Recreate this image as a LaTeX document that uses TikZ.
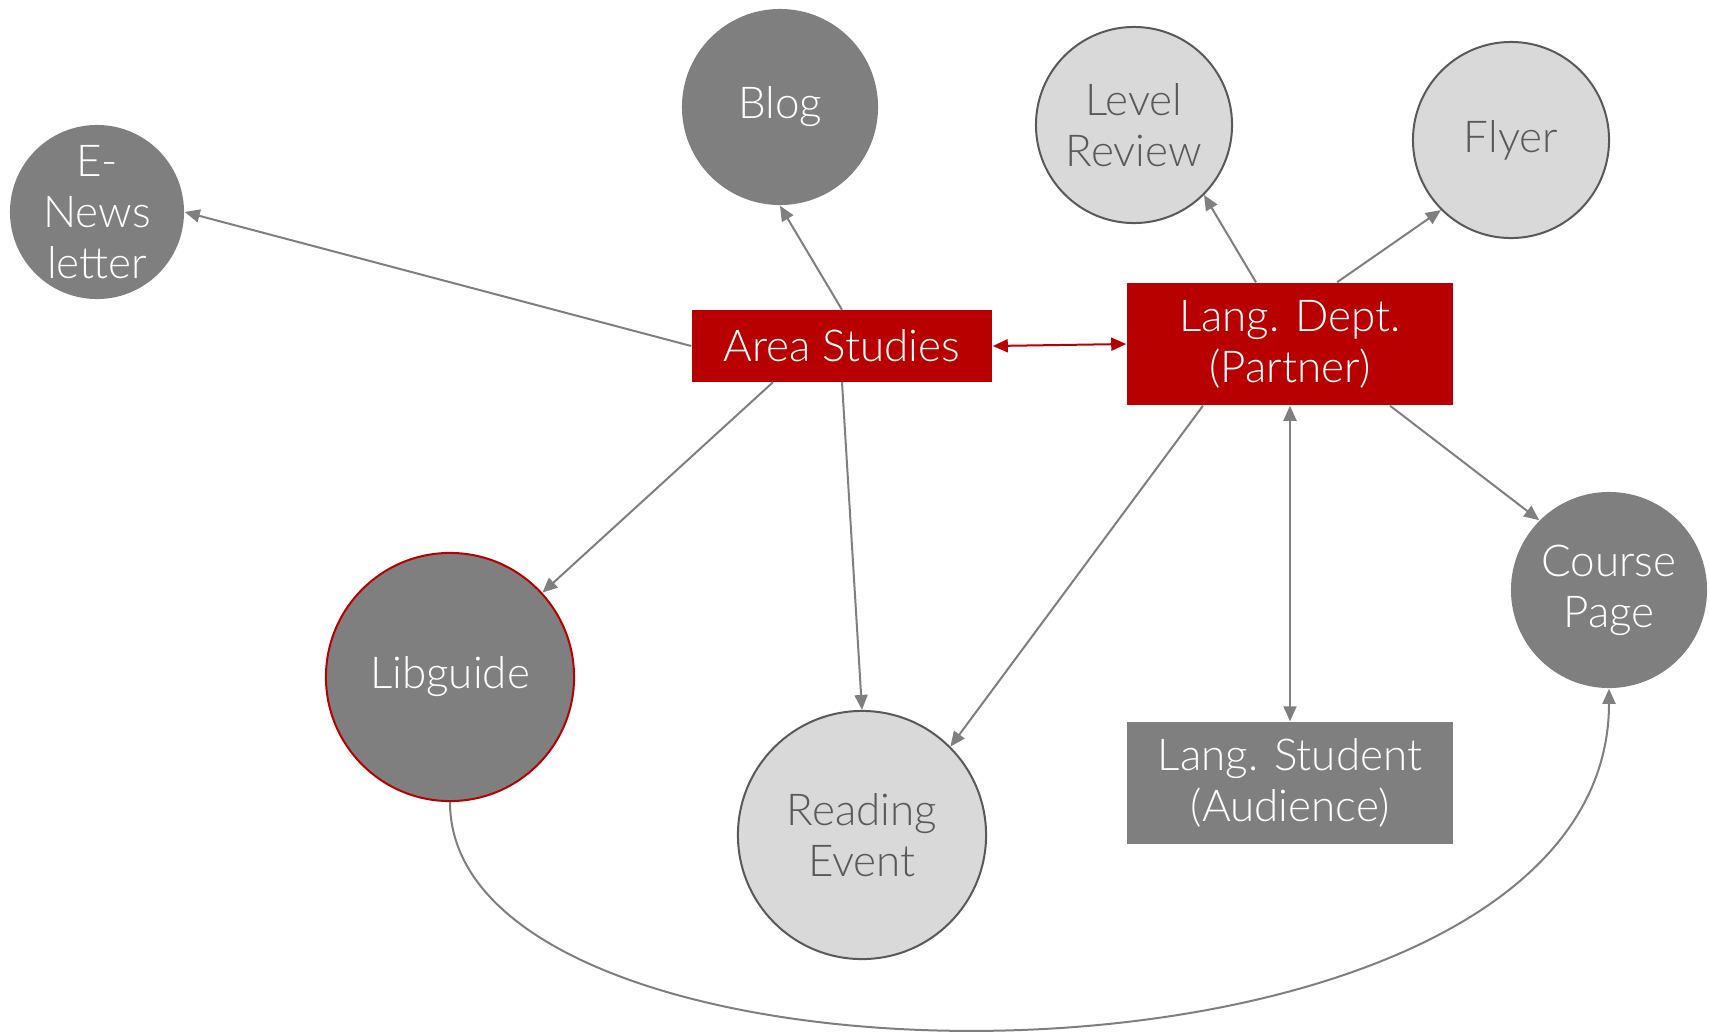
\documentclass[tikz,border=0pt]{standalone}
\usepackage{fontspec}
\setmainfont{Lato Light}
\usetikzlibrary{arrows.meta}
\definecolor{deptred}{RGB}{184,0,0}
\definecolor{darkfill}{RGB}{127,127,127}
\definecolor{lightfill}{RGB}{217,217,217}
\definecolor{inkgray}{RGB}{89,89,89}
\begin{document}
\begin{tikzpicture}[x=0.01cm,y=-0.01cm,
    >={Triangle[length=0.15cm,width=0.13cm]},
    every node/.style={font=\fontsize{12.5pt}{14.5pt}\selectfont,align=center,inner sep=0pt},
    dark/.style={circle,fill=darkfill,text=white,minimum size=1.96cm},
    light/.style={circle,fill=lightfill,draw=inkgray,line width=0.02cm,text=inkgray,minimum size=1.96cm},
    big/.style={minimum size=2.48cm},
    redbox/.style={rectangle,fill=deptred,text=white},
    graybox/.style={rectangle,fill=darkfill,text=white},
    link/.style={draw=darkfill,line width=0.02cm,->}]
    \useasboundingbox (0,0) rectangle (1709,1033);
    % outputs
    \node[dark] (blog) at (780,107) {Blog};
    \node[dark,minimum size=1.74cm] (enews) at (97,212) {E-\\News\\letter};
    \node[light] (review) at (1134,125) {Level\\Review};
    \node[light] (flyer) at (1511,140) {Flyer};
    \node[dark,big,draw=deptred,line width=0.02cm] (lib) at (450,677) {Libguide};
    \node[light,big] (reading) at (862,835) {Reading\\Event};
    \node[dark] (course) at (1609,590) {Course\\Page};
    % actors
    \node[redbox,minimum width=3cm,minimum height=0.71cm] (area) at (842,346) {Area Studies};
    \node[redbox,minimum width=3.26cm,minimum height=1.22cm] (dept) at (1290,344) {Lang. Dept.\\(Partner)};
    \node[graybox,minimum width=3.26cm,minimum height=1.22cm] (student) at (1290,783) {Lang. Student\\(Audience)};
    % links
    \draw[<->,draw=deptred,line width=0.02cm] (area.east) -- (dept.west);
    \draw[link] (area.west) -- (enews.east);
    \draw[link] (area.north) -- (blog.south);
    \draw[link] ([xshift=-0.69cm]area.south) -- (lib);
    \draw[link] (area.south) -- (reading.north);
    \draw[link] ([xshift=-0.34cm]dept.north) -- (review.-45);
    \draw[link] ([xshift=0.47cm]dept.north) -- (flyer.225);
    \draw[link] ([xshift=-0.87cm]dept.south) -- (reading.45);
    \draw[link,<->] (dept.south) -- (student.north);
    \draw[link] ([xshift=1cm]dept.south) -- (course.135);
    \draw[link] (lib.south) .. controls (450,1122) and (1609,1122) .. (course.south);
\end{tikzpicture}
\end{document}
